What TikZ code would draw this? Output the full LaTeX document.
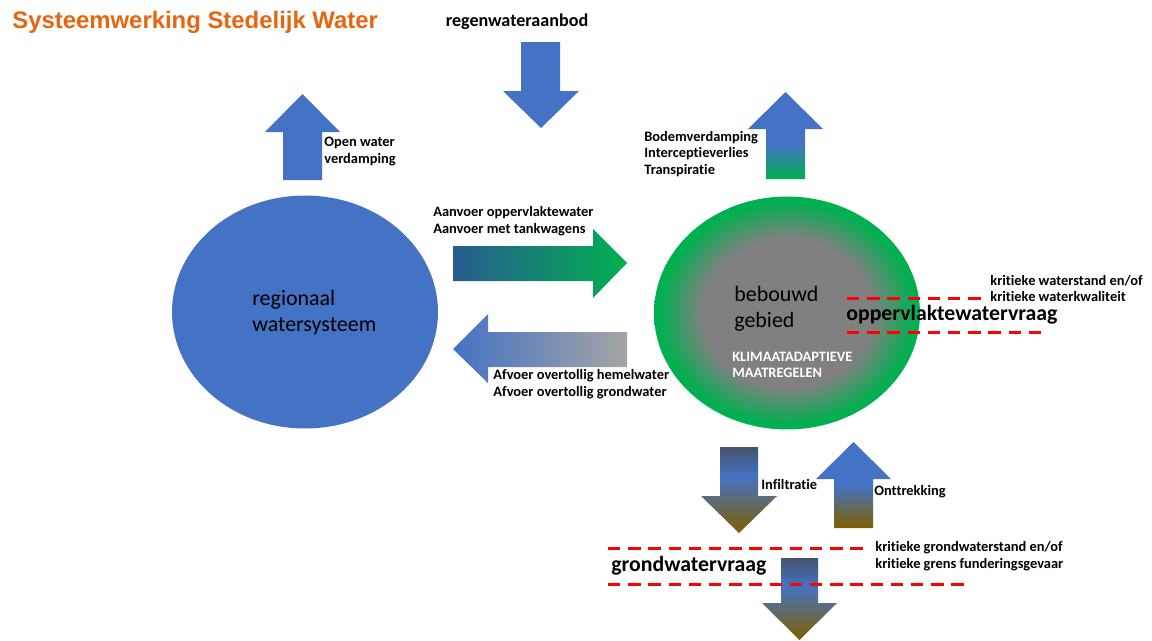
\documentclass[tikz,border=0pt]{standalone}
\usepackage{fontspec}
\setmainfont{Carlito}[Ligatures=NoCommon]
\newfontfamily\titlefont{Liberation Sans}
\usetikzlibrary{shapes.geometric}
\definecolor{blueA}{HTML}{4472C4}
\definecolor{greenA}{HTML}{00B050}
\definecolor{grayA}{HTML}{808080}
\definecolor{grayB}{HTML}{A5A5A5}
\definecolor{brownA}{HTML}{7F6000}
\definecolor{slateA}{HTML}{44546A}
\definecolor{navyA}{HTML}{285B90}
\definecolor{orangeA}{HTML}{E8650F}
\definecolor{redA}{HTML}{FF0000}
\pgfdeclareradialshading{builtshade}{\pgfpointorigin}{color(0bp)=(grayA); color(16bp)=(grayA); color(24bp)=(greenA); color(50bp)=(greenA)}
\pgfdeclareverticalshading{groundshade}{100bp}{color(0bp)=(brownA); color(25bp)=(brownA); color(58bp)=(blueA); color(75bp)=(slateA); color(100bp)=(slateA)}
\pgfdeclareverticalshading{liftshade}{100bp}{color(0bp)=(brownA); color(25bp)=(brownA); color(50bp)=(blueA); color(100bp)=(blueA)}
\pgfdeclareverticalshading{evapshade}{100bp}{color(0bp)=(greenA); color(25bp)=(greenA); color(45bp)=(blueA); color(100bp)=(blueA)}
\tikzset{
  lab/.style={font=\fontsize{8.2}{9.6}\selectfont\bfseries, align=left, anchor=west, inner sep=0pt},
  biglab/.style={font=\fontsize{12.4}{14}\selectfont\bfseries, anchor=west, inner sep=0pt},
  areatext/.style={font=\fontsize{12.5}{14.7}\selectfont, align=left, anchor=west, inner sep=0pt},
  crit/.style={draw=redA, line width=1.7pt, dash pattern=on 7pt off 4.5pt},
  blob/.style={ellipse, minimum width=5.32cm, minimum height=4.66cm, inner sep=0pt}
}
\begin{document}
\begin{tikzpicture}[x=0.02cm, y=-0.02cm]
\useasboundingbox (0,0) rectangle (1152,640);
\fill[white] (0,0) rectangle (1152,640);

% title
\node[anchor=west, inner sep=0pt, text=orangeA, font=\titlefont\bfseries\fontsize{13.6}{15}\selectfont] (title) at (12,22) {Systeemwerking Stedelijk Water};

% water bodies
\node[blob, fill=blueA] (regional) at (305,312) {};
\node[blob, shade, shading=builtshade] (built) at (787,313) {};
\node[areatext] (regtext) at (252,313) {regionaal\\watersysteem};
\node[areatext] (builttext) at (734,309) {bebouwd\\gebied};
\node[font=\fontsize{8.2}{9.2}\selectfont\bfseries, text=white, align=left, anchor=west, inner sep=0pt] (measures) at (732,365) {KLIMAATADAPTIEVE\\MAATREGELEN};

% open water evaporation
\fill[blueA] (283,180) -- (283,132) -- (265,132) -- (302.5,94) -- (340,132) -- (322,132) -- (322,180) -- cycle;
\node[lab] (openwater) at (324,151.5) {Open water\\verdamping};

% rain
\node[font=\fontsize{10.3}{12}\selectfont\bfseries, inner sep=0pt] (rain) at (517,22) {regenwateraanbod};
\fill[blueA] (521,42) -- (560,42) -- (560,91) -- (579,91) -- (541,128) -- (503,91) -- (521,91) -- cycle;

% evapotranspiration
\shade[shading=evapshade] (766,179) -- (766,129) -- (748,129) -- (785.5,92) -- (823,129) -- (805,129) -- (805,179) -- cycle;
\node[lab] (evap) at (644,154) {Bodemverdamping\\Interceptieverlies\\Transpiratie};

% supply
\shade[left color=navyA, right color=greenA] (453,246) -- (593,246) -- (593,229) -- (627,263) -- (593,298) -- (593,281) -- (453,281) -- cycle;
\node[lab] (supply) at (433,221) {Aanvoer oppervlaktewater\\Aanvoer met tankwagens};

% discharge
\shade[left color=blueA, right color=grayB] (627,332) -- (488,332) -- (488,314) -- (453,349) -- (488,383) -- (488,367) -- (627,367) -- cycle;
\node[lab] (discharge) at (493,384.5) {Afvoer overtollig hemelwater\\Afvoer overtollig grondwater};

% surface water demand
\draw[crit] (847,298) -- (985,298);
\draw[crit] (847,332) -- (1048,332);
\node[biglab] (surfdemand) at (846,315) {oppervlaktewatervraag};
\node[lab] (surfcrit) at (990,288.5) {kritieke waterstand en/of\\kritieke waterkwaliteit};

% infiltration / extraction
\shade[shading=groundshade] (720,447) -- (758,447) -- (758,496) -- (777,496) -- (739,533) -- (701,496) -- (720,496) -- cycle;
\node[lab] (infil) at (761,484) {Infiltratie};
\shade[shading=liftshade] (834,528) -- (834,479) -- (816,479) -- (853.5,442) -- (891,479) -- (873,479) -- (873,528) -- cycle;
\node[lab] (extract) at (874,492) {Onttrekking};

% groundwater demand
\draw[crit] (608,548) -- (863,548);
\shade[shading=groundshade] (781,558) -- (818,558) -- (818,603) -- (837,603) -- (799.5,640) -- (762,603) -- (781,603) -- cycle;
\draw[crit] (608,584) -- (970,584);
\node[biglab] (grounddemand) at (611,566) {grondwatervraag};
\node[lab] (groundcrit) at (875,556.5) {kritieke grondwaterstand en/of\\kritieke grens funderingsgevaar};
\end{tikzpicture}
\end{document}
